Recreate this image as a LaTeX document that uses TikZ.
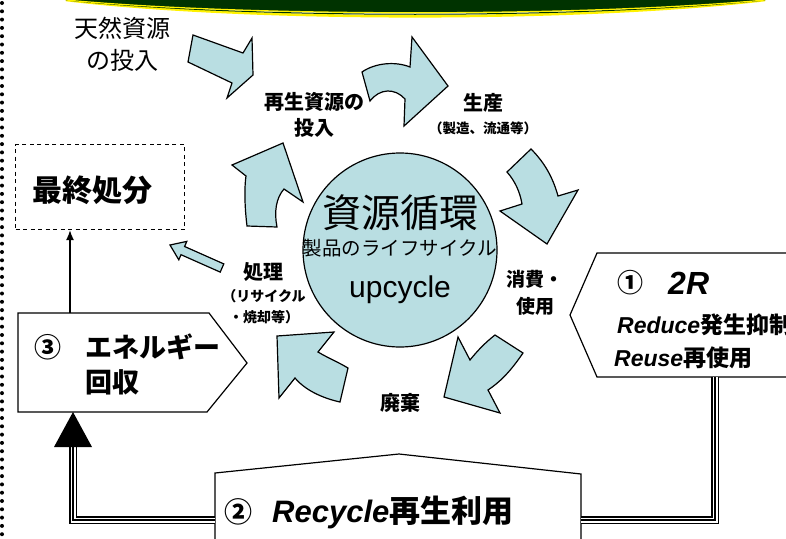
\documentclass[tikz,border=0pt]{standalone}
\usepackage{fontspec}
\setmainfont{Liberation Sans}
\newfontfamily\jp{Noto Sans CJK JP}
\usetikzlibrary{arrows.meta,calc}
\definecolor{arrowblue}{RGB}{185,222,226}
\definecolor{bannergreen}{RGB}{0,51,0}
\tikzset{
  blockarrow/.style={fill=arrowblue, draw=black, line width=1.2pt, line join=miter},
  outline/.style={draw=black, fill=white, line width=1.2pt, line join=miter},
  triple/.style={line width=8pt, draw=black, line join=miter,
     postaction={draw=white, line width=5pt},
     postaction={draw=black, line width=1.6pt}},
  lbl/.style={inner sep=0pt, align=center},
}
\newcommand{\fs}[2]{\fontsize{#1pt}{#2pt}\selectfont}
\begin{document}
\begin{tikzpicture}[x=1pt,y=-1pt]
\useasboundingbox (0,0) rectangle (786,538);
\clip (0,0) rectangle (786,538);
\fill[white] (0,0) rectangle (786,538);

% banner
\draw[yellow, line width=2.6pt] (66,0) .. controls (250,21.7) and (580,21.7) .. (765,0);
\fill[bannergreen] (66,0) .. controls (250,17) and (580,17) .. (765,0) -- cycle;
\draw[bannergreen, line width=1pt] (66,0) .. controls (250,19) and (580,19) .. (765,0);
\draw[yellow, line width=1.2pt] (66,0) .. controls (250,17) and (580,17) .. (765,0);

% left dotted border
\draw[line width=4pt, line cap=round, dash pattern=on 0pt off 8.3pt] (2,3) -- (2,540);

% central circle
\node[circle, draw=black, line width=1.2pt, fill=arrowblue, minimum size=194pt, inner sep=0pt] (cyc) at (400,250) {};
\node[lbl, font=\jp\fs{39}{44}] (cyc1) at (400,213) {資源循環};
\node[lbl, font=\jp\fs{19.5}{22}] (cyc2) at (400,248) {製品のライフサイクル};
\node[lbl, font=\fs{30}{34}] (cyc3) at (400,290) {upcycle};

% block arrows
% A: natural input
\path[blockarrow] (193,35) -- (243,53) -- (252,38) -- (253,75) -- (227,98) -- (232,83) -- (188,62) -- cycle;
% B: top curved
\path[blockarrow] (362,72) .. controls (375,63) and (395,61) .. (410,67) -- (412,37) -- (448,86) -- (404,126) -- (405,99)
   .. controls (395,88) and (380,88) .. (370,101) -- cycle;
% C: right curved down
\path[blockarrow] (507,172) -- (531,149) .. controls (545,163) and (553,178) .. (558,196) -- (578,190) -- (547,244) -- (500,211) -- (522,204)
   .. controls (520,192) and (515,181) .. (507,172) -- cycle;
% D: bottom right
\path[blockarrow] (458,337) -- (470,360) .. controls (478,350) and (486,342) .. (495,335) -- (523,353)
   .. controls (510,372) and (500,382) .. (488,390) -- (500,413) -- (444,397) -- cycle;
% E: bottom left
\path[blockarrow] (277,336) -- (334,332) -- (318,352) .. controls (328,358) and (338,362) .. (348,368) -- (340,402)
   .. controls (322,398) and (305,390) .. (295,378) -- (279,398) -- cycle;
% F: left curved up
\path[blockarrow] (247,226) -- (277,227) .. controls (274,212) and (276,198) .. (284,189) -- (303,202) -- (283,143) -- (232,165) -- (246,176)
   .. controls (244,190) and (245,210) .. (247,226) -- cycle;
% G: small to final disposal
\path[blockarrow] (170,245) -- (186.8,241.4) -- (184.6,246.5) -- (223.8,263.9) -- (220.2,272.1) -- (181,254.7) -- (178.8,259.8) -- cycle;

% labels
\node[lbl, font=\jp\fs{24}{32}] (nat) at (122,44) {天然資源\\の投入};
\node[lbl, font=\jp\bfseries\fs{20}{26}] (reinput) at (314,115) {再生資源の\\投入};
\node[lbl, font=\jp\bfseries\fs{20}{24}] (prod) at (483,103) {生産};
\node[lbl, font=\jp\bfseries\fs{13.5}{16}] (prodsub) at (483,128) {（製造、流通等）};
\node[lbl, font=\jp\bfseries\fs{19}{27}] (use) at (535,293) {消費・\\使用};
\node[lbl, font=\jp\bfseries\fs{20}{24}] (waste) at (400,403) {廃棄};
\node[lbl, font=\jp\bfseries\fs{20}{24}] (treat) at (263,272) {処理};
\node[lbl, font=\jp\bfseries\fs{14}{21}] (treatsub) at (264,307) {（リサイクル\\・焼却等）};

% final disposal box
\node[draw=black, line width=1.2pt, dash pattern=on 4pt off 3.5pt, minimum width=169pt, minimum height=85pt, anchor=north west, inner sep=0pt] (final) at (15,144) {};
\node[lbl, font=\jp\bfseries\fs{30}{34}] (finaltxt) at (92,190) {最終処分};

% box 3 energy recovery
\path[outline] (18,313) -- (209,313) -- (247,363) -- (207,412) -- (18,412) -- cycle;
\coordinate (b3top) at (70,313);
\coordinate (b3bot) at (73,412);
\node[lbl, font=\jp\bfseries\fs{27}{30}] (c3) at (48,347) {③};
\node[lbl, font=\jp\bfseries\fs{27}{30}, anchor=west] (energy) at (85,347) {エネルギー};
\node[lbl, font=\jp\bfseries\fs{27}{30}, anchor=west] (recov) at (85,382) {回収};
\draw[line width=1.2pt, -{Latex[length=10pt,width=8pt]}] (b3top) -- (final.south -| b3top);

% box 1 2R
\path[outline] (597,253) -- (800,253) -- (800,377) -- (597,377) -- (570,315) -- cycle;
\coordinate (b1bot) at (715,377);
\node[lbl, font=\jp\bfseries\fs{26}{30}] (c1) at (630,283) {①};
\node[lbl, font=\bfseries\itshape\fs{32}{34}, anchor=west] (tworr) at (668,283) {2R};
\node[lbl, anchor=west] (reduce) at (617,325) {{\bfseries\itshape\fs{23}{26}Reduce}{\jp\bfseries\fs{23}{26}発生抑制}};
\node[lbl, anchor=west] (reuse) at (614,358) {{\bfseries\itshape\fs{23}{26}Reuse}{\jp\bfseries\fs{23}{26}再使用}};

% box 2 recycle
\path[outline] (215,560) -- (215,473) -- (399,454) -- (581,474) -- (581,560) -- cycle;
\coordinate (b2w) at (215,520);
\coordinate (b2e) at (581,520);
\node[lbl, font=\jp\bfseries\fs{28}{30}] (c2) at (238,512) {②};
\node[lbl, anchor=west] (recycle) at (272,512) {{\bfseries\itshape\fs{31}{34}Recycle}{\jp\bfseries\fs{31}{34}再生利用}};

% triple connectors
\coordinate (leftcorner) at (73,520);
\coordinate (tribase) at (73,447);
\coordinate (rightcorner) at (715,520);
\path[triple] (b1bot) -- (rightcorner) -- (b2e);
\path[triple] (b2w) -- (leftcorner) -- (tribase);
\fill[black] ($(tribase)+(-19,0)$) -- (b3bot) -- ($(tribase)+(19,0)$) -- cycle;
\end{tikzpicture}
\end{document}
